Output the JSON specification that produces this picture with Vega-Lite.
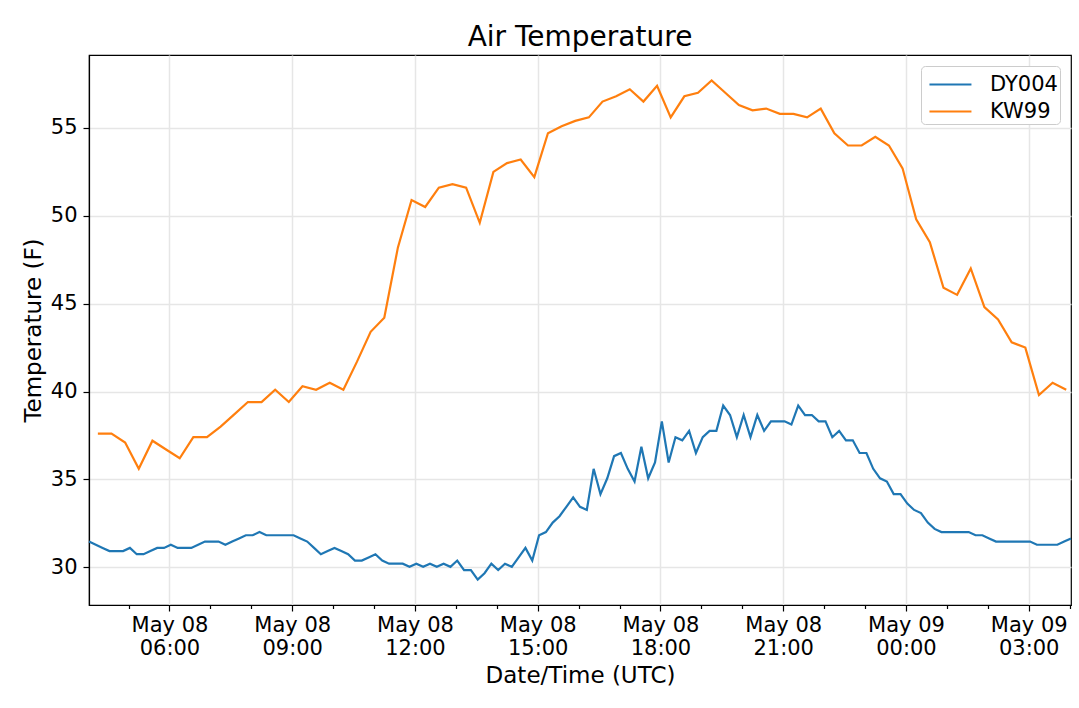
{
  "$schema": "https://vega.github.io/schema/vega-lite/v6.json",
  "autosize": {"type": "none"},
  "padding": {"left": 89, "top": 55, "right": 8, "bottom": 103},
  "width": 982,
  "height": 550,
  "background": "white",
  "title": {
    "text": "Air Temperature",
    "font": "DejaVu Sans",
    "fontSize": 28,
    "fontWeight": "normal",
    "color": "black",
    "frame": "group",
    "anchor": "middle",
    "offset": 3
  },
  "data": {
    "values": [
      {"station": "DY004", "time": "2019-05-08T04:02:00Z", "temp": 31.46},
      {"station": "DY004", "time": "2019-05-08T04:12:00Z", "temp": 31.28},
      {"station": "DY004", "time": "2019-05-08T04:22:00Z", "temp": 31.1},
      {"station": "DY004", "time": "2019-05-08T04:32:00Z", "temp": 30.92},
      {"station": "DY004", "time": "2019-05-08T04:42:00Z", "temp": 30.92},
      {"station": "DY004", "time": "2019-05-08T04:52:00Z", "temp": 30.92},
      {"station": "DY004", "time": "2019-05-08T05:02:00Z", "temp": 31.1},
      {"station": "DY004", "time": "2019-05-08T05:12:00Z", "temp": 30.74},
      {"station": "DY004", "time": "2019-05-08T05:22:00Z", "temp": 30.74},
      {"station": "DY004", "time": "2019-05-08T05:32:00Z", "temp": 30.92},
      {"station": "DY004", "time": "2019-05-08T05:42:00Z", "temp": 31.1},
      {"station": "DY004", "time": "2019-05-08T05:52:00Z", "temp": 31.1},
      {"station": "DY004", "time": "2019-05-08T06:02:00Z", "temp": 31.28},
      {"station": "DY004", "time": "2019-05-08T06:12:00Z", "temp": 31.1},
      {"station": "DY004", "time": "2019-05-08T06:22:00Z", "temp": 31.1},
      {"station": "DY004", "time": "2019-05-08T06:32:00Z", "temp": 31.1},
      {"station": "DY004", "time": "2019-05-08T06:42:00Z", "temp": 31.28},
      {"station": "DY004", "time": "2019-05-08T06:52:00Z", "temp": 31.46},
      {"station": "DY004", "time": "2019-05-08T07:02:00Z", "temp": 31.46},
      {"station": "DY004", "time": "2019-05-08T07:12:00Z", "temp": 31.46},
      {"station": "DY004", "time": "2019-05-08T07:22:00Z", "temp": 31.28},
      {"station": "DY004", "time": "2019-05-08T07:32:00Z", "temp": 31.46},
      {"station": "DY004", "time": "2019-05-08T07:42:00Z", "temp": 31.64},
      {"station": "DY004", "time": "2019-05-08T07:52:00Z", "temp": 31.82},
      {"station": "DY004", "time": "2019-05-08T08:02:00Z", "temp": 31.82},
      {"station": "DY004", "time": "2019-05-08T08:12:00Z", "temp": 32.0},
      {"station": "DY004", "time": "2019-05-08T08:22:00Z", "temp": 31.82},
      {"station": "DY004", "time": "2019-05-08T08:32:00Z", "temp": 31.82},
      {"station": "DY004", "time": "2019-05-08T08:42:00Z", "temp": 31.82},
      {"station": "DY004", "time": "2019-05-08T08:52:00Z", "temp": 31.82},
      {"station": "DY004", "time": "2019-05-08T09:02:00Z", "temp": 31.82},
      {"station": "DY004", "time": "2019-05-08T09:12:00Z", "temp": 31.64},
      {"station": "DY004", "time": "2019-05-08T09:22:00Z", "temp": 31.46},
      {"station": "DY004", "time": "2019-05-08T09:32:00Z", "temp": 31.1},
      {"station": "DY004", "time": "2019-05-08T09:42:00Z", "temp": 30.74},
      {"station": "DY004", "time": "2019-05-08T09:52:00Z", "temp": 30.92},
      {"station": "DY004", "time": "2019-05-08T10:02:00Z", "temp": 31.1},
      {"station": "DY004", "time": "2019-05-08T10:12:00Z", "temp": 30.92},
      {"station": "DY004", "time": "2019-05-08T10:22:00Z", "temp": 30.74},
      {"station": "DY004", "time": "2019-05-08T10:32:00Z", "temp": 30.38},
      {"station": "DY004", "time": "2019-05-08T10:42:00Z", "temp": 30.38},
      {"station": "DY004", "time": "2019-05-08T10:52:00Z", "temp": 30.56},
      {"station": "DY004", "time": "2019-05-08T11:02:00Z", "temp": 30.74},
      {"station": "DY004", "time": "2019-05-08T11:12:00Z", "temp": 30.38},
      {"station": "DY004", "time": "2019-05-08T11:22:00Z", "temp": 30.2},
      {"station": "DY004", "time": "2019-05-08T11:32:00Z", "temp": 30.2},
      {"station": "DY004", "time": "2019-05-08T11:42:00Z", "temp": 30.2},
      {"station": "DY004", "time": "2019-05-08T11:52:00Z", "temp": 30.02},
      {"station": "DY004", "time": "2019-05-08T12:02:00Z", "temp": 30.2},
      {"station": "DY004", "time": "2019-05-08T12:12:00Z", "temp": 30.02},
      {"station": "DY004", "time": "2019-05-08T12:22:00Z", "temp": 30.2},
      {"station": "DY004", "time": "2019-05-08T12:32:00Z", "temp": 30.02},
      {"station": "DY004", "time": "2019-05-08T12:42:00Z", "temp": 30.2},
      {"station": "DY004", "time": "2019-05-08T12:52:00Z", "temp": 30.02},
      {"station": "DY004", "time": "2019-05-08T13:02:00Z", "temp": 30.38},
      {"station": "DY004", "time": "2019-05-08T13:12:00Z", "temp": 29.84},
      {"station": "DY004", "time": "2019-05-08T13:22:00Z", "temp": 29.84},
      {"station": "DY004", "time": "2019-05-08T13:32:00Z", "temp": 29.3},
      {"station": "DY004", "time": "2019-05-08T13:42:00Z", "temp": 29.66},
      {"station": "DY004", "time": "2019-05-08T13:52:00Z", "temp": 30.2},
      {"station": "DY004", "time": "2019-05-08T14:02:00Z", "temp": 29.84},
      {"station": "DY004", "time": "2019-05-08T14:12:00Z", "temp": 30.2},
      {"station": "DY004", "time": "2019-05-08T14:22:00Z", "temp": 30.02},
      {"station": "DY004", "time": "2019-05-08T14:32:00Z", "temp": 30.56},
      {"station": "DY004", "time": "2019-05-08T14:42:00Z", "temp": 31.1},
      {"station": "DY004", "time": "2019-05-08T14:52:00Z", "temp": 30.38},
      {"station": "DY004", "time": "2019-05-08T15:02:00Z", "temp": 31.82},
      {"station": "DY004", "time": "2019-05-08T15:12:00Z", "temp": 32.0},
      {"station": "DY004", "time": "2019-05-08T15:22:00Z", "temp": 32.54},
      {"station": "DY004", "time": "2019-05-08T15:32:00Z", "temp": 32.9},
      {"station": "DY004", "time": "2019-05-08T15:42:00Z", "temp": 33.44},
      {"station": "DY004", "time": "2019-05-08T15:52:00Z", "temp": 33.98},
      {"station": "DY004", "time": "2019-05-08T16:02:00Z", "temp": 33.44},
      {"station": "DY004", "time": "2019-05-08T16:12:00Z", "temp": 33.26},
      {"station": "DY004", "time": "2019-05-08T16:22:00Z", "temp": 35.6},
      {"station": "DY004", "time": "2019-05-08T16:32:00Z", "temp": 34.16},
      {"station": "DY004", "time": "2019-05-08T16:42:00Z", "temp": 35.06},
      {"station": "DY004", "time": "2019-05-08T16:52:00Z", "temp": 36.32},
      {"station": "DY004", "time": "2019-05-08T17:02:00Z", "temp": 36.5},
      {"station": "DY004", "time": "2019-05-08T17:12:00Z", "temp": 35.6},
      {"station": "DY004", "time": "2019-05-08T17:22:00Z", "temp": 34.88},
      {"station": "DY004", "time": "2019-05-08T17:32:00Z", "temp": 36.86},
      {"station": "DY004", "time": "2019-05-08T17:42:00Z", "temp": 35.06},
      {"station": "DY004", "time": "2019-05-08T17:52:00Z", "temp": 35.96},
      {"station": "DY004", "time": "2019-05-08T18:02:00Z", "temp": 38.3},
      {"station": "DY004", "time": "2019-05-08T18:12:00Z", "temp": 35.96},
      {"station": "DY004", "time": "2019-05-08T18:22:00Z", "temp": 37.4},
      {"station": "DY004", "time": "2019-05-08T18:32:00Z", "temp": 37.22},
      {"station": "DY004", "time": "2019-05-08T18:42:00Z", "temp": 37.76},
      {"station": "DY004", "time": "2019-05-08T18:52:00Z", "temp": 36.5},
      {"station": "DY004", "time": "2019-05-08T19:02:00Z", "temp": 37.4},
      {"station": "DY004", "time": "2019-05-08T19:12:00Z", "temp": 37.76},
      {"station": "DY004", "time": "2019-05-08T19:22:00Z", "temp": 37.76},
      {"station": "DY004", "time": "2019-05-08T19:32:00Z", "temp": 39.2},
      {"station": "DY004", "time": "2019-05-08T19:42:00Z", "temp": 38.66},
      {"station": "DY004", "time": "2019-05-08T19:52:00Z", "temp": 37.4},
      {"station": "DY004", "time": "2019-05-08T20:02:00Z", "temp": 38.66},
      {"station": "DY004", "time": "2019-05-08T20:12:00Z", "temp": 37.4},
      {"station": "DY004", "time": "2019-05-08T20:22:00Z", "temp": 38.66},
      {"station": "DY004", "time": "2019-05-08T20:32:00Z", "temp": 37.76},
      {"station": "DY004", "time": "2019-05-08T20:42:00Z", "temp": 38.3},
      {"station": "DY004", "time": "2019-05-08T20:52:00Z", "temp": 38.3},
      {"station": "DY004", "time": "2019-05-08T21:02:00Z", "temp": 38.3},
      {"station": "DY004", "time": "2019-05-08T21:12:00Z", "temp": 38.12},
      {"station": "DY004", "time": "2019-05-08T21:22:00Z", "temp": 39.2},
      {"station": "DY004", "time": "2019-05-08T21:32:00Z", "temp": 38.66},
      {"station": "DY004", "time": "2019-05-08T21:42:00Z", "temp": 38.66},
      {"station": "DY004", "time": "2019-05-08T21:52:00Z", "temp": 38.3},
      {"station": "DY004", "time": "2019-05-08T22:02:00Z", "temp": 38.3},
      {"station": "DY004", "time": "2019-05-08T22:12:00Z", "temp": 37.4},
      {"station": "DY004", "time": "2019-05-08T22:22:00Z", "temp": 37.76},
      {"station": "DY004", "time": "2019-05-08T22:32:00Z", "temp": 37.22},
      {"station": "DY004", "time": "2019-05-08T22:42:00Z", "temp": 37.22},
      {"station": "DY004", "time": "2019-05-08T22:52:00Z", "temp": 36.5},
      {"station": "DY004", "time": "2019-05-08T23:02:00Z", "temp": 36.5},
      {"station": "DY004", "time": "2019-05-08T23:12:00Z", "temp": 35.6},
      {"station": "DY004", "time": "2019-05-08T23:22:00Z", "temp": 35.06},
      {"station": "DY004", "time": "2019-05-08T23:32:00Z", "temp": 34.88},
      {"station": "DY004", "time": "2019-05-08T23:42:00Z", "temp": 34.16},
      {"station": "DY004", "time": "2019-05-08T23:52:00Z", "temp": 34.16},
      {"station": "DY004", "time": "2019-05-09T00:02:00Z", "temp": 33.62},
      {"station": "DY004", "time": "2019-05-09T00:12:00Z", "temp": 33.26},
      {"station": "DY004", "time": "2019-05-09T00:22:00Z", "temp": 33.08},
      {"station": "DY004", "time": "2019-05-09T00:32:00Z", "temp": 32.54},
      {"station": "DY004", "time": "2019-05-09T00:42:00Z", "temp": 32.18},
      {"station": "DY004", "time": "2019-05-09T00:52:00Z", "temp": 32.0},
      {"station": "DY004", "time": "2019-05-09T01:02:00Z", "temp": 32.0},
      {"station": "DY004", "time": "2019-05-09T01:12:00Z", "temp": 32.0},
      {"station": "DY004", "time": "2019-05-09T01:22:00Z", "temp": 32.0},
      {"station": "DY004", "time": "2019-05-09T01:32:00Z", "temp": 32.0},
      {"station": "DY004", "time": "2019-05-09T01:42:00Z", "temp": 31.82},
      {"station": "DY004", "time": "2019-05-09T01:52:00Z", "temp": 31.82},
      {"station": "DY004", "time": "2019-05-09T02:02:00Z", "temp": 31.64},
      {"station": "DY004", "time": "2019-05-09T02:12:00Z", "temp": 31.46},
      {"station": "DY004", "time": "2019-05-09T02:22:00Z", "temp": 31.46},
      {"station": "DY004", "time": "2019-05-09T02:32:00Z", "temp": 31.46},
      {"station": "DY004", "time": "2019-05-09T02:42:00Z", "temp": 31.46},
      {"station": "DY004", "time": "2019-05-09T02:52:00Z", "temp": 31.46},
      {"station": "DY004", "time": "2019-05-09T03:02:00Z", "temp": 31.46},
      {"station": "DY004", "time": "2019-05-09T03:12:00Z", "temp": 31.28},
      {"station": "DY004", "time": "2019-05-09T03:22:00Z", "temp": 31.28},
      {"station": "DY004", "time": "2019-05-09T03:32:00Z", "temp": 31.28},
      {"station": "DY004", "time": "2019-05-09T03:42:00Z", "temp": 31.28},
      {"station": "DY004", "time": "2019-05-09T03:52:00Z", "temp": 31.46},
      {"station": "DY004", "time": "2019-05-09T04:02:00Z", "temp": 31.64},
      {"station": "KW99", "time": "2019-05-08T04:15:00Z", "temp": 37.6},
      {"station": "KW99", "time": "2019-05-08T04:35:00Z", "temp": 37.6},
      {"station": "KW99", "time": "2019-05-08T04:55:00Z", "temp": 37.1},
      {"station": "KW99", "time": "2019-05-08T05:15:00Z", "temp": 35.6},
      {"station": "KW99", "time": "2019-05-08T05:35:00Z", "temp": 37.2},
      {"station": "KW99", "time": "2019-05-08T05:55:00Z", "temp": 36.7},
      {"station": "KW99", "time": "2019-05-08T06:15:00Z", "temp": 36.2},
      {"station": "KW99", "time": "2019-05-08T06:35:00Z", "temp": 37.4},
      {"station": "KW99", "time": "2019-05-08T06:55:00Z", "temp": 37.4},
      {"station": "KW99", "time": "2019-05-08T07:15:00Z", "temp": 38.0},
      {"station": "KW99", "time": "2019-05-08T07:35:00Z", "temp": 38.7},
      {"station": "KW99", "time": "2019-05-08T07:55:00Z", "temp": 39.4},
      {"station": "KW99", "time": "2019-05-08T08:15:00Z", "temp": 39.4},
      {"station": "KW99", "time": "2019-05-08T08:35:00Z", "temp": 40.1},
      {"station": "KW99", "time": "2019-05-08T08:55:00Z", "temp": 39.4},
      {"station": "KW99", "time": "2019-05-08T09:15:00Z", "temp": 40.3},
      {"station": "KW99", "time": "2019-05-08T09:35:00Z", "temp": 40.1},
      {"station": "KW99", "time": "2019-05-08T09:55:00Z", "temp": 40.5},
      {"station": "KW99", "time": "2019-05-08T10:15:00Z", "temp": 40.1},
      {"station": "KW99", "time": "2019-05-08T10:35:00Z", "temp": 41.7},
      {"station": "KW99", "time": "2019-05-08T10:55:00Z", "temp": 43.4},
      {"station": "KW99", "time": "2019-05-08T11:15:00Z", "temp": 44.2},
      {"station": "KW99", "time": "2019-05-08T11:35:00Z", "temp": 48.2},
      {"station": "KW99", "time": "2019-05-08T11:55:00Z", "temp": 50.9},
      {"station": "KW99", "time": "2019-05-08T12:15:00Z", "temp": 50.5},
      {"station": "KW99", "time": "2019-05-08T12:35:00Z", "temp": 51.6},
      {"station": "KW99", "time": "2019-05-08T12:55:00Z", "temp": 51.8},
      {"station": "KW99", "time": "2019-05-08T13:15:00Z", "temp": 51.6},
      {"station": "KW99", "time": "2019-05-08T13:35:00Z", "temp": 49.6},
      {"station": "KW99", "time": "2019-05-08T13:55:00Z", "temp": 52.5},
      {"station": "KW99", "time": "2019-05-08T14:15:00Z", "temp": 53.0},
      {"station": "KW99", "time": "2019-05-08T14:35:00Z", "temp": 53.2},
      {"station": "KW99", "time": "2019-05-08T14:55:00Z", "temp": 52.2},
      {"station": "KW99", "time": "2019-05-08T15:15:00Z", "temp": 54.7},
      {"station": "KW99", "time": "2019-05-08T15:35:00Z", "temp": 55.1},
      {"station": "KW99", "time": "2019-05-08T15:55:00Z", "temp": 55.4},
      {"station": "KW99", "time": "2019-05-08T16:15:00Z", "temp": 55.6},
      {"station": "KW99", "time": "2019-05-08T16:35:00Z", "temp": 56.5},
      {"station": "KW99", "time": "2019-05-08T16:55:00Z", "temp": 56.8},
      {"station": "KW99", "time": "2019-05-08T17:15:00Z", "temp": 57.2},
      {"station": "KW99", "time": "2019-05-08T17:35:00Z", "temp": 56.5},
      {"station": "KW99", "time": "2019-05-08T17:55:00Z", "temp": 57.4},
      {"station": "KW99", "time": "2019-05-08T18:15:00Z", "temp": 55.6},
      {"station": "KW99", "time": "2019-05-08T18:35:00Z", "temp": 56.8},
      {"station": "KW99", "time": "2019-05-08T18:55:00Z", "temp": 57.0},
      {"station": "KW99", "time": "2019-05-08T19:15:00Z", "temp": 57.7},
      {"station": "KW99", "time": "2019-05-08T19:35:00Z", "temp": 57.0},
      {"station": "KW99", "time": "2019-05-08T19:55:00Z", "temp": 56.3},
      {"station": "KW99", "time": "2019-05-08T20:15:00Z", "temp": 56.0},
      {"station": "KW99", "time": "2019-05-08T20:35:00Z", "temp": 56.1},
      {"station": "KW99", "time": "2019-05-08T20:55:00Z", "temp": 55.8},
      {"station": "KW99", "time": "2019-05-08T21:15:00Z", "temp": 55.8},
      {"station": "KW99", "time": "2019-05-08T21:35:00Z", "temp": 55.6},
      {"station": "KW99", "time": "2019-05-08T21:55:00Z", "temp": 56.1},
      {"station": "KW99", "time": "2019-05-08T22:15:00Z", "temp": 54.7},
      {"station": "KW99", "time": "2019-05-08T22:35:00Z", "temp": 54.0},
      {"station": "KW99", "time": "2019-05-08T22:55:00Z", "temp": 54.0},
      {"station": "KW99", "time": "2019-05-08T23:15:00Z", "temp": 54.5},
      {"station": "KW99", "time": "2019-05-08T23:35:00Z", "temp": 54.0},
      {"station": "KW99", "time": "2019-05-08T23:55:00Z", "temp": 52.7},
      {"station": "KW99", "time": "2019-05-09T00:15:00Z", "temp": 49.8},
      {"station": "KW99", "time": "2019-05-09T00:35:00Z", "temp": 48.5},
      {"station": "KW99", "time": "2019-05-09T00:55:00Z", "temp": 45.9},
      {"station": "KW99", "time": "2019-05-09T01:15:00Z", "temp": 45.5},
      {"station": "KW99", "time": "2019-05-09T01:35:00Z", "temp": 47.0},
      {"station": "KW99", "time": "2019-05-09T01:55:00Z", "temp": 44.8},
      {"station": "KW99", "time": "2019-05-09T02:15:00Z", "temp": 44.1},
      {"station": "KW99", "time": "2019-05-09T02:35:00Z", "temp": 42.8},
      {"station": "KW99", "time": "2019-05-09T02:55:00Z", "temp": 42.5},
      {"station": "KW99", "time": "2019-05-09T03:15:00Z", "temp": 39.8},
      {"station": "KW99", "time": "2019-05-09T03:35:00Z", "temp": 40.5},
      {"station": "KW99", "time": "2019-05-09T03:55:00Z", "temp": 40.1}
    ]
  },
  "mark": {"type": "line", "strokeWidth": 2.2},
  "encoding": {
    "x": {
      "field": "time",
      "type": "temporal",
      "scale": {"type": "utc", "nice": false},
      "axis": {
        "title": "Date/Time (UTC)",
        "values": [
          {"year": 2019, "month": 5, "date": 8, "hours": 5, "utc": true},
          {"year": 2019, "month": 5, "date": 8, "hours": 6, "utc": true},
          {"year": 2019, "month": 5, "date": 8, "hours": 7, "utc": true},
          {"year": 2019, "month": 5, "date": 8, "hours": 8, "utc": true},
          {"year": 2019, "month": 5, "date": 8, "hours": 9, "utc": true},
          {"year": 2019, "month": 5, "date": 8, "hours": 10, "utc": true},
          {"year": 2019, "month": 5, "date": 8, "hours": 11, "utc": true},
          {"year": 2019, "month": 5, "date": 8, "hours": 12, "utc": true},
          {"year": 2019, "month": 5, "date": 8, "hours": 13, "utc": true},
          {"year": 2019, "month": 5, "date": 8, "hours": 14, "utc": true},
          {"year": 2019, "month": 5, "date": 8, "hours": 15, "utc": true},
          {"year": 2019, "month": 5, "date": 8, "hours": 16, "utc": true},
          {"year": 2019, "month": 5, "date": 8, "hours": 17, "utc": true},
          {"year": 2019, "month": 5, "date": 8, "hours": 18, "utc": true},
          {"year": 2019, "month": 5, "date": 8, "hours": 19, "utc": true},
          {"year": 2019, "month": 5, "date": 8, "hours": 20, "utc": true},
          {"year": 2019, "month": 5, "date": 8, "hours": 21, "utc": true},
          {"year": 2019, "month": 5, "date": 8, "hours": 22, "utc": true},
          {"year": 2019, "month": 5, "date": 8, "hours": 23, "utc": true},
          {"year": 2019, "month": 5, "date": 9, "hours": 0, "utc": true},
          {"year": 2019, "month": 5, "date": 9, "hours": 1, "utc": true},
          {"year": 2019, "month": 5, "date": 9, "hours": 2, "utc": true},
          {"year": 2019, "month": 5, "date": 9, "hours": 3, "utc": true},
          {"year": 2019, "month": 5, "date": 9, "hours": 4, "utc": true}
        ],
        "labelExpr": "utchours(datum.value) % 3 === 0 ? [utcFormat(datum.value, '%b %d'), utcFormat(datum.value, '%H:%M')] : ''",
        "tickSize": {"condition": {"test": "utchours(datum.value) % 3 === 0", "value": 6}, "value": 3.5},
        "gridOpacity": {"condition": {"test": "utchours(datum.value) % 3 === 0", "value": 1}, "value": 0},
        "labelLineHeight": 23,
        "labelPadding": 3,
        "labelOverlap": false,
        "labelFlush": false,
        "labelBound": false,
        "titlePadding": 6
      }
    },
    "y": {
      "field": "temp",
      "type": "quantitative",
      "scale": {"domain": [27.85, 59.15], "nice": false, "zero": false},
      "axis": {
        "title": "Temperature (F)",
        "values": [30, 35, 40, 45, 50, 55],
        "tickSize": 6,
        "labelPadding": 6,
        "titlePadding": 5
      }
    },
    "color": {
      "field": "station",
      "type": "nominal",
      "scale": {"domain": ["DY004", "KW99"], "range": ["#1f77b4", "#ff7f0e"]},
      "legend": {
        "title": null,
        "orient": "top-right",
        "offset": 11,
        "symbolType": "M-0.67,0H2.13",
        "symbolSize": 900,
        "symbolStrokeWidth": 2.2,
        "labelFontSize": 21,
        "labelFont": "DejaVu Sans",
        "labelColor": "black",
        "labelOffset": 34,
        "fillColor": "white",
        "strokeColor": "#cccccc",
        "cornerRadius": 4,
        "padding": 2,
        "rowPadding": 0
      }
    }
  },
  "config": {
    "font": "DejaVu Sans",
    "view": {"stroke": "black", "strokeWidth": 1.2},
    "axis": {
      "domainColor": "black",
      "domainWidth": 1.2,
      "tickColor": "black",
      "tickWidth": 1.2,
      "labelColor": "black",
      "titleColor": "black",
      "labelFont": "DejaVu Sans",
      "titleFont": "DejaVu Sans",
      "labelFontSize": 21,
      "titleFontSize": 23,
      "titleFontWeight": "normal",
      "gridColor": "#e6e6e6",
      "gridWidth": 1.5
    }
  }
}
